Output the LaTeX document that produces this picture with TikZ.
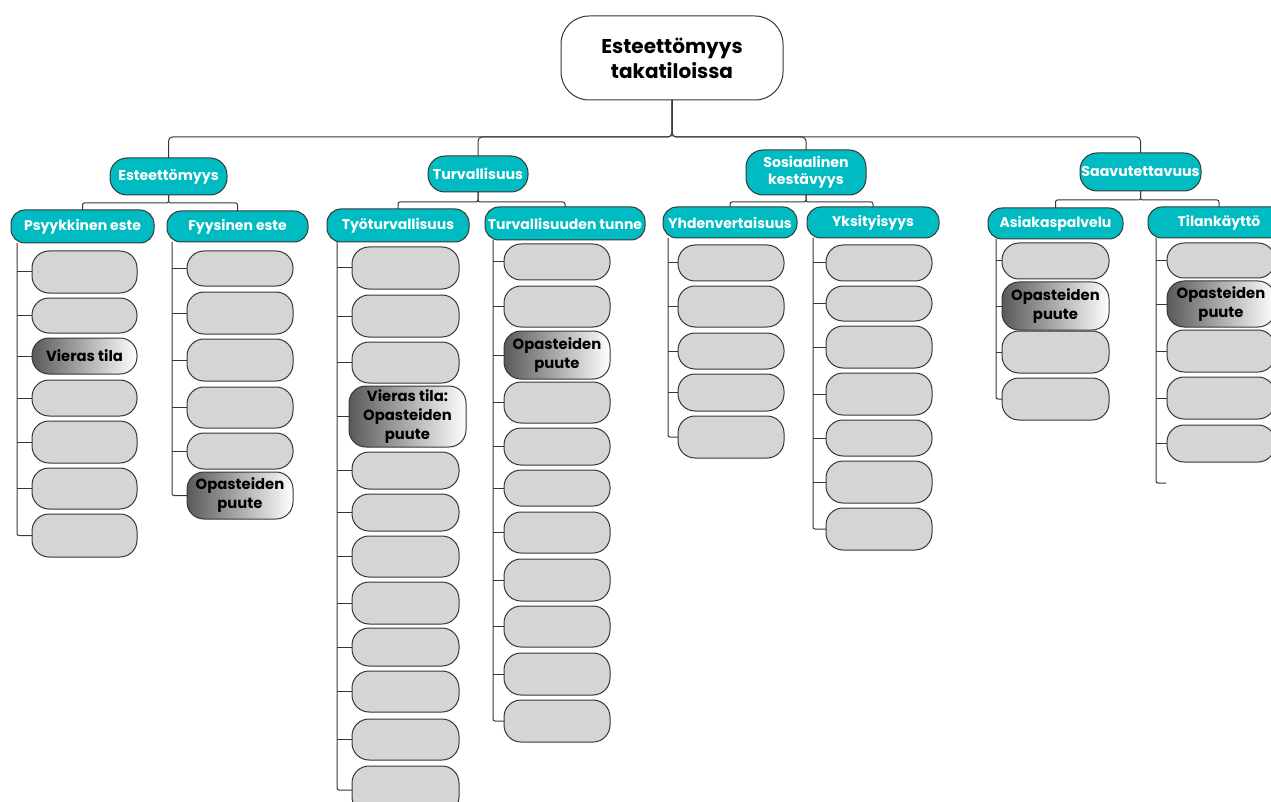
\documentclass[tikz,border=0pt]{standalone}
\usepackage{fontspec}
\setmainfont{Poppins}
\usetikzlibrary{calc}
\definecolor{tealc}{RGB}{0,188,194}
\definecolor{edgec}{RGB}{55,55,55}
\definecolor{boxgray}{RGB}{213,213,213}
\newcommand\mkbox[7][gbox]{\node[#1, minimum width={#4-#3}, minimum height={#6-#5}] (#2) at ({(#3+#4)/2},{(#5+#6)/2}) {#7};}
\begin{document}
\begin{tikzpicture}[x=1pt,y=-1pt,
  base/.style={draw=edgec, line width=1pt, inner sep=0pt, outer sep=0pt, align=center, font=\bfseries},
  gbox/.style={base, fill=boxgray, rounded corners=17pt, font=\bfseries\fontsize{14.8}{19}\selectfont},
  grad/.style={base, left color=black!65, right color=white, rounded corners=17pt, font=\bfseries\fontsize{14.8}{19}\selectfont},
  lone/.style={base, fill=tealc, text=white, rounded corners=17pt, font=\bfseries\fontsize{14.2}{17}\selectfont},
  ltwo/.style={base, fill=tealc, text=white, rounded corners=14pt, font=\bfseries\fontsize{14}{16}\selectfont},
  rootbox/.style={base, fill=white, rounded corners=28pt, font=\bfseries\fontsize{20}{25}\selectfont},
  conn/.style={draw=edgec, line width=1pt},
]
\useasboundingbox (0,0) rectangle (1271,802);
% root
\mkbox[rootbox]{root}{561}{783}{16}{100}{Esteettömyys\\takatiloissa}
% level 1
\mkbox[lone]{e}{110}{227}{158}{195}{Esteettömyys}
\mkbox[lone]{t}{428}{528}{156}{192}{Turvallisuus}
\mkbox[lone]{s}{746}{866}{150}{195}{Sosiaalinen\\kestävyys}
\mkbox[lone]{v}{1080}{1201}{153}{191}{Saavutettavuus}
% level 2
\mkbox[ltwo]{ps}{11}{154}{210}{243}{Psyykkinen este}
\mkbox[ltwo]{fy}{167}{308}{211}{242}{Fyysinen este}
\mkbox[ltwo]{ty}{327}{469}{209}{242}{Työturvallisuus}
\mkbox[ltwo]{tu}{485}{645}{207}{240}{Turvallisuuden tunne}
\mkbox[ltwo]{yh}{663}{797}{207}{238}{Yhdenvertaisuus}
\mkbox[ltwo]{yk}{807}{939}{207}{238}{Yksityisyys}
\mkbox[ltwo]{as}{988}{1123}{208}{239}{Asiakaspalvelu}
\mkbox[ltwo]{ti}{1148}{1290}{207}{238}{Tilankäyttö}
% top connectors
\draw[conn, rounded corners=4pt] (root.south) -- ++(0,37) -| (e.north);
\draw[conn, rounded corners=4pt] (root.south) -- ++(0,37) -| (t.north);
\draw[conn, rounded corners=4pt] (root.south) -- ++(0,37) -| (s.north);
\draw[conn, rounded corners=4pt] (root.south) -- ++(0,37) -| (v.north);
% level 2 connectors
\draw[conn, rounded corners=2pt] (e.south) -- ++(0,8) -| (ps.north);
\draw[conn, rounded corners=2pt] (e.south) -- ++(0,8) -| (fy.north);
\draw[conn, rounded corners=2pt] (t.south) -- ++(0,10) -| (ty.north);
\draw[conn, rounded corners=2pt] (t.south) -- ++(0,10) -| (tu.north);
\draw[conn, rounded corners=2pt] (s.south) -- ++(0,7) -| (yh.north);
\draw[conn, rounded corners=2pt] (s.south) -- ++(0,7) -| (yk.north);
\draw[conn, rounded corners=2pt] (v.south) -- ++(0,9) -| (as.north);
\draw[conn, rounded corners=2pt] (v.south) -- ++(0,9) -| (ti.north);
% Psyykkinen este
\mkbox{p1}{32}{137}{251}{293}{}
\mkbox{p2}{32}{137}{298}{333}{}
\mkbox[grad]{p3}{32}{137}{338}{374}{Vieras tila}
\mkbox{p4}{32}{137}{380}{416}{}
\mkbox{p5}{32}{137}{421}{463}{}
\mkbox{p6}{32}{137}{468}{509}{}
\mkbox{p7}{32}{137}{514}{557}{}
\coordinate (sps) at (17,243);
\draw[conn, rounded corners=2pt] (sps) |- (p7.west);
\foreach \b in {p1,p2,p3,p4,p5,p6} \draw[conn] (\b.west) -- (\b.west -| sps);
% Fyysinen este
\mkbox{f1}{187}{293}{251}{286}{}
\mkbox{f2}{187}{293}{292}{334}{}
\mkbox{f3}{187}{293}{339}{381}{}
\mkbox{f4}{187}{293}{387}{428}{}
\mkbox{f5}{187}{293}{433}{469}{}
\mkbox[grad]{f6}{187}{293}{472}{519}{Opasteiden\\puute}
\coordinate (sfy) at (172,242);
\draw[conn, rounded corners=2pt] (sfy) |- (f6.west);
\foreach \b in {f1,f2,f3,f4,f5} \draw[conn] (\b.west) -- (\b.west -| sfy);
% Tyoturvallisuus
\mkbox{a1}{352}{459}{247}{289}{}
\mkbox{a2}{352}{459}{295}{337}{}
\mkbox{a3}{352}{459}{342}{383}{}
\mkbox[grad]{a4}{349}{466}{386}{447}{Vieras tila:\\Opasteiden\\puute}
\mkbox{a5}{352}{459}{452}{489}{}
\mkbox{a6}{352}{459}{494}{531}{}
\mkbox{a7}{352}{459}{536}{577}{}
\mkbox{a8}{352}{459}{582}{624}{}
\mkbox{a9}{352}{459}{628}{666}{}
\mkbox{a10}{352}{459}{671}{712}{}
\mkbox{a11}{352}{459}{719}{760}{}
\mkbox{a12}{352}{459}{766}{814}{}
\coordinate (sty) at (337,242);
\draw[conn, rounded corners=2pt] (sty) |- (a12.west);
\foreach \b in {a1,a2,a3,a4,a5,a6,a7,a8,a9,a10,a11} \draw[conn] (\b.west) -- (\b.west -| sty);
% Turvallisuuden tunne
\mkbox{u1}{504}{610}{244}{280}{}
\mkbox{u2}{504}{610}{286}{327}{}
\mkbox[grad]{u3}{504}{610}{331}{379}{Opasteiden\\puute}
\mkbox{u4}{504}{610}{382}{423}{}
\mkbox{u5}{504}{610}{428}{465}{}
\mkbox{u6}{504}{610}{470}{506}{}
\mkbox{u7}{504}{610}{512}{553}{}
\mkbox{u8}{504}{610}{559}{601}{}
\mkbox{u9}{504}{610}{606}{647}{}
\mkbox{u10}{504}{610}{653}{695}{}
\mkbox{u11}{504}{610}{700}{742}{}
\coordinate (stu) at (493,240);
\draw[conn, rounded corners=2pt] (stu) |- (u11.west);
\foreach \b in {u1,u2,u3,u4,u5,u6,u7,u8,u9,u10} \draw[conn] (\b.west) -- (\b.west -| stu);
% Yhdenvertaisuus
\mkbox{h1}{678}{784}{245}{281}{}
\mkbox{h2}{678}{784}{286}{327}{}
\mkbox{h3}{678}{784}{333}{369}{}
\mkbox{h4}{678}{784}{374}{411}{}
\mkbox{h5}{678}{784}{416}{458}{}
\coordinate (syh) at (668,238);
\draw[conn, rounded corners=2pt] (syh) |- (h5.west);
\foreach \b in {h1,h2,h3,h4} \draw[conn] (\b.west) -- (\b.west -| syh);
% Yksityisyys
\mkbox{k1}{826}{932}{245}{281}{}
\mkbox{k2}{826}{932}{286}{321}{}
\mkbox{k3}{826}{932}{326}{368}{}
\mkbox{k4}{826}{932}{373}{415}{}
\mkbox{k5}{826}{932}{420}{456}{}
\mkbox{k6}{826}{932}{461}{503}{}
\mkbox{k7}{826}{932}{508}{550}{}
\coordinate (syk) at (813,238);
\draw[conn, rounded corners=2pt] (syk) |- (k7.west);
\foreach \b in {k1,k2,k3,k4,k5,k6} \draw[conn] (\b.west) -- (\b.west -| syk);
% Asiakaspalvelu
\mkbox{c1}{1002}{1109}{243}{279}{}
\mkbox[grad]{c2}{1002}{1109}{282}{330}{Opasteiden\\puute}
\mkbox{c3}{1002}{1109}{331}{373}{}
\mkbox{c4}{1002}{1109}{378}{420}{}
\coordinate (sas) at (996,239);
\draw[conn, rounded corners=2pt] (sas) |- (c4.west);
\foreach \b in {c1,c2,c3} \draw[conn] (\b.west) -- (\b.west -| sas);
% Tilankaytto
\mkbox{l1}{1167}{1275}{243}{278}{}
\mkbox[grad]{l2}{1167}{1275}{281}{327}{Opasteiden\\puute}
\mkbox{l3}{1167}{1275}{330}{372}{}
\mkbox{l4}{1167}{1275}{377}{419}{}
\mkbox{l5}{1167}{1275}{425}{462}{}
\coordinate (sti) at (1156,238);
\coordinate (lend) at (1166,483);
\draw[conn, rounded corners=2pt] (sti) |- (lend);
\foreach \b in {l1,l2,l3,l4,l5} \draw[conn] (\b.west) -- (\b.west -| sti);
\end{tikzpicture}
\end{document}
